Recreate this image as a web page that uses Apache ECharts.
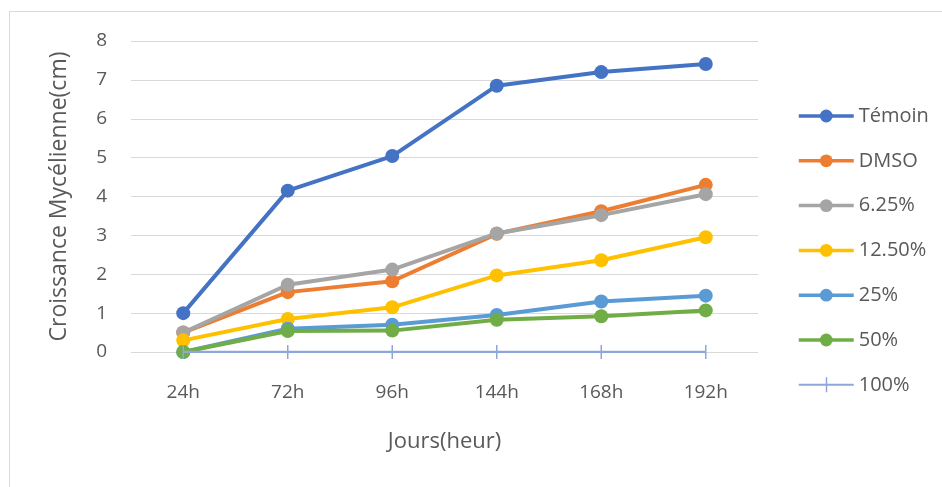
<!DOCTYPE html>
<html>
<head>
<meta charset="utf-8">
<script src="https://cdn.jsdelivr.net/npm/echarts@6/dist/echarts.min.js"></script>
<style>
html, body { margin: 0; padding: 0; background: #fff; }
#frame {
  position: absolute; left: 9px; top: 11px; width: 940px; height: 480px;
  border: 1px solid #d9d9d9; box-sizing: border-box;
}
#myChart { position: absolute; left: 0; top: 0; width: 942px; height: 487px; }
</style>
</head>
<body>
<div id="frame"></div>
<div id="myChart"></div>
<script>
var categories = ['24h', '72h', '96h', '144h', '168h', '192h'];
var yTicks = [0, 1, 2, 3, 4, 5, 6, 7, 8];
var temoin = [1.0, 4.15, 5.04, 6.85, 7.2, 7.41];
var dmso = [0.5, 1.54, 1.82, 3.04, 3.62, 4.3];
var c625 = [0.5, 1.73, 2.12, 3.05, 3.52, 4.06];
var c1250 = [0.3, 0.85, 1.15, 1.97, 2.36, 2.95];
var c25 = [0, 0.6, 0.7, 0.95, 1.3, 1.45];
var c50 = [0, 0.54, 0.55, 0.83, 0.92, 1.07];
var c100 = [0, 0, 0, 0, 0, 0];

var myChart = echarts.init(document.getElementById('myChart'));

// une série "ligne + marqueur rond" façon Excel
function serie (name, data, color) {
  return {
    name: name,
    type: 'line',
    data: data,
    symbol: 'circle',
    symbolSize: 14,
    lineStyle: { width: 4, color: color },
    itemStyle: { color: color },
    z: 3
  };
}

var series = [
  serie('Témoin', temoin, '#4472C4'),
  serie('DMSO', dmso, '#ED7D31'),
  serie('6.25%', c625, '#A5A5A5'),
  serie('12.50%', c1250, '#FFC000'),
  serie('25%', c25, '#5B9BD5'),
  serie('50%', c50, '#70AD47'),
  {
    name: '100%',
    type: 'line',
    data: c100,
    symbol: 'rect',
    symbolSize: [1.5, 14],
    lineStyle: { width: 2.5, color: '#8FA6D8' },
    itemStyle: { color: '#8FA6D8' },
    z: 4
  }
];

var legendData = series.map(function (s) { return s.name; });
// le 100% : trait horizontal + petite barre verticale
legendData[6] = { name: '100%', icon: 'path://M0,6.5 H55 V8.5 H0 Z M27,0 H28.5 V15 H27 Z' };

var option = {
  animation: false,
  textStyle: { fontFamily: 'Open Sans, Noto Sans, sans-serif' },
  legend: {
    orient: 'vertical',
    left: 797,
    top: 106,
    padding: 0,
    itemWidth: 55,
    itemHeight: 16,
    itemGap: 24.8,
    lineStyle: { width: 3.5 },
    textStyle: { color: '#595959', fontSize: 20 },
    data: legendData
  },
  grid: { left: 131, right: 184, top: 41, bottom: 135 },
  xAxis: {
    type: 'category',
    data: categories,
    boundaryGap: true,
    name: 'Jours(heur)',
    nameLocation: 'middle',
    nameGap: 79,
    nameTextStyle: { color: '#595959', fontSize: 22 },
    axisLine: { show: false },
    axisTick: { show: false },
    axisLabel: { color: '#595959', fontSize: 19, margin: 31 }
  },
  yAxis: {
    type: 'value',
    min: yTicks[0],
    max: yTicks[yTicks.length - 1],
    interval: 1,
    name: 'Croissance Mycélienne(cm)',
    nameLocation: 'middle',
    nameGap: 60,
    nameTextStyle: { color: '#595959', fontSize: 23 },
    axisLine: { show: false },
    axisTick: { show: false },
    axisLabel: { color: '#595959', fontSize: 19, margin: 24 },
    splitLine: { lineStyle: { color: '#D9D9D9', width: 1 } }
  },
  series: series
};

myChart.setOption(option);
</script>
</body>
</html>
